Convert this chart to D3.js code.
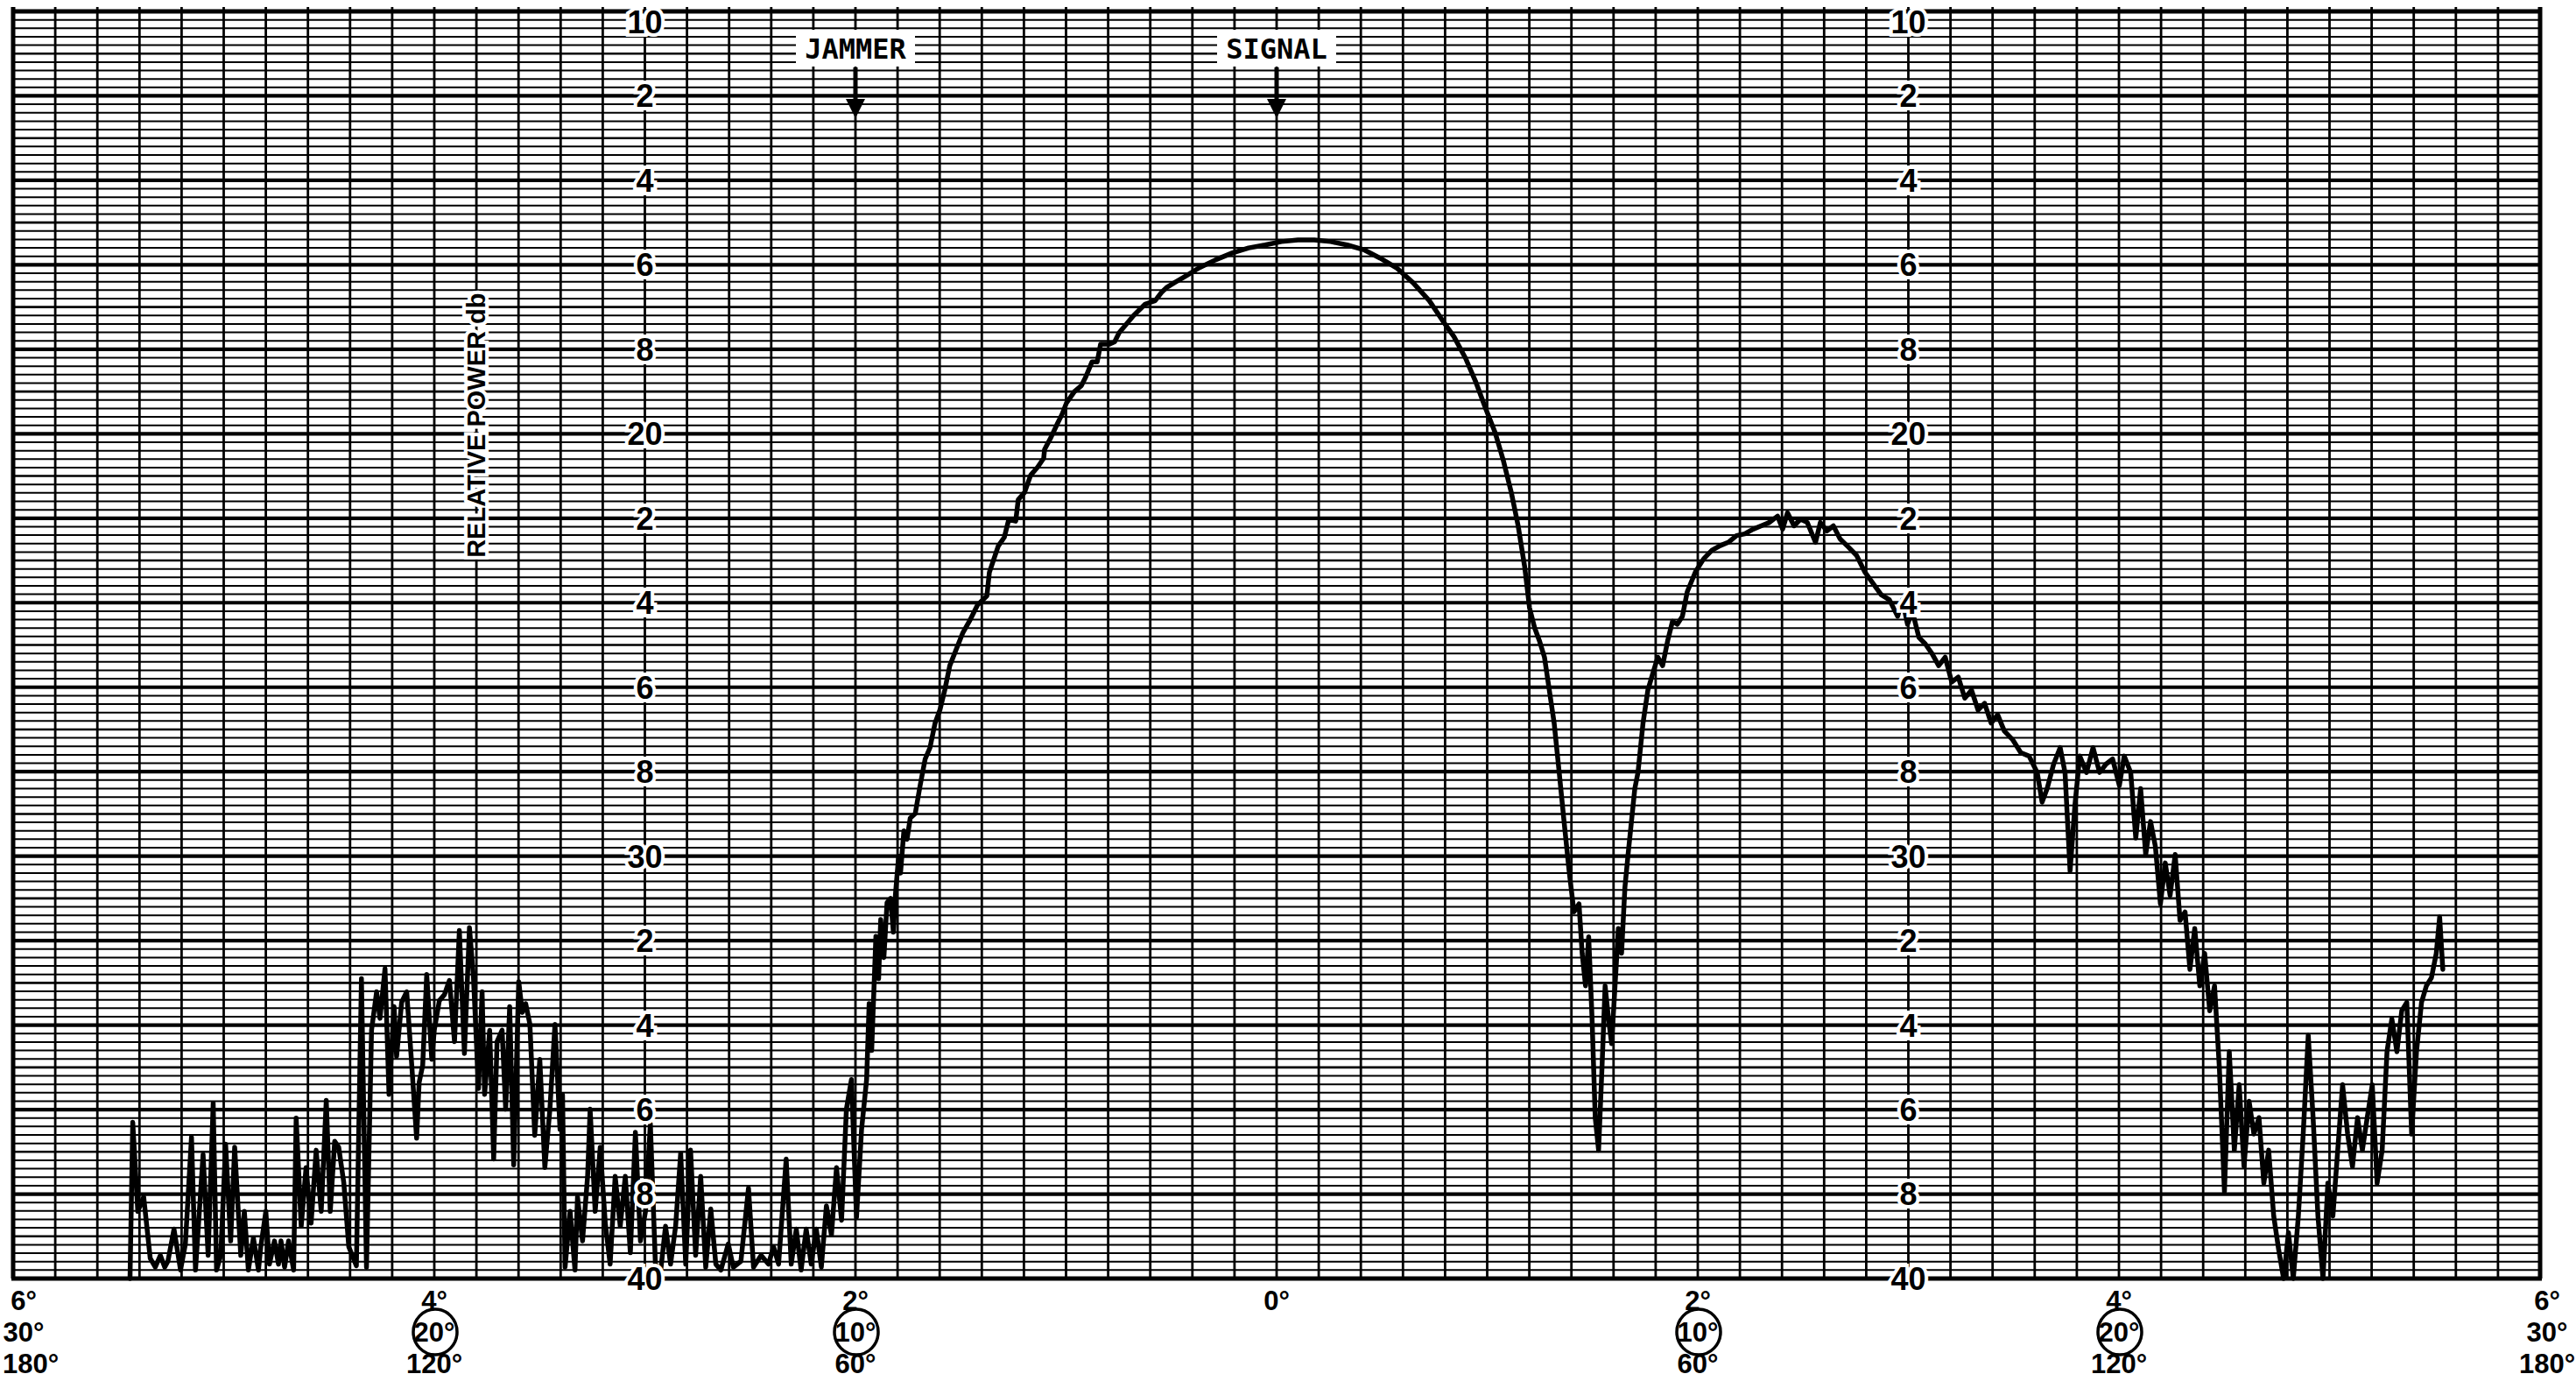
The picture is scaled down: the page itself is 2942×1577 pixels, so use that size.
<!DOCTYPE html>
<html>
<head>
<meta charset="utf-8">
<script src="https://cdn.jsdelivr.net/npm/d3@7"></script>
<style>
  body { margin: 0; background: #fff; }
  svg { display: block; }
</style>
</head>
<body>
<script>
const W = 2942, H = 1577

// y axis: relative power, dB (10 at top, 40 at bottom)
const powerTicks = [10, 12, 14, 16, 18, 20, 22, 24, 26, 28, 30, 32, 34, 36, 38, 40]
const powerTickLabels = ['10', '2', '4', '6', '8', '20', '2', '4', '6', '8', '30', '2', '4', '6', '8', '40']
const labelColumns = [-3, 3]

// x axis: three scales printed under the chart
const angleTicks = [-6, -4, -2, 0, 2, 4, 6]
const angleRow1 = ['6°', '4°', '2°', '0°', '2°', '4°', '6°']
const angleRow2 = ['30°', '20°', '10°', '', '10°', '20°', '30°']
const angleRow2Circled = [false, true, true, false, true, true, false]
const angleRow3 = ['180°', '120°', '60°', '', '60°', '120°', '180°']

const markers = [{ name: 'JAMMER', at: -2 }, { name: 'SIGNAL', at: 0 }]

// recorded trace, angle in degrees / power in dB
const angleDeg = [
  -5.445, -5.432, -5.408, -5.380, -5.349, -5.325, -5.301, -5.280, -5.265, -5.236,
  -5.205, -5.182, -5.153, -5.134, -5.098, -5.074, -5.050, -5.034, -5.014, -4.991,
  -4.967, -4.948, -4.919, -4.902, -4.883, -4.859, -4.835, -4.824, -4.800, -4.783,
  -4.759, -4.740, -4.728, -4.711, -4.692, -4.668, -4.656, -4.632, -4.609, -4.585,
  -4.561, -4.537, -4.513, -4.494, -4.473, -4.454, -4.430, -4.406, -4.370, -4.346,
  -4.322, -4.298, -4.274, -4.258, -4.234, -4.215, -4.191, -4.179, -4.155, -4.131,
  -4.107, -4.084, -4.072, -4.055, -4.036, -4.012, -4.000, -3.976, -3.952, -3.928,
  -3.904, -3.881, -3.857, -3.833, -3.814, -3.790, -3.773, -3.761, -3.737, -3.718,
  -3.702, -3.678, -3.661, -3.642, -3.623, -3.599, -3.582, -3.566, -3.546, -3.523,
  -3.499, -3.475, -3.451, -3.427, -3.403, -3.391, -3.379, -3.355, -3.332, -3.320,
  -3.296, -3.272, -3.260, -3.236, -3.212, -3.188, -3.165, -3.141, -3.117, -3.093,
  -3.069, -3.045, -3.021, -2.997, -2.974, -2.950, -2.926, -2.902, -2.878, -2.854,
  -2.830, -2.806, -2.783, -2.759, -2.735, -2.711, -2.687, -2.663, -2.639, -2.604,
  -2.580, -2.544, -2.508, -2.484, -2.448, -2.413, -2.389, -2.365, -2.329, -2.305,
  -2.281, -2.258, -2.234, -2.210, -2.186, -2.162, -2.138, -2.114, -2.090, -2.066,
  -2.043, -2.019, -1.995, -1.971, -1.947, -1.935, -1.923, -1.903, -1.890, -1.880,
  -1.865, -1.850, -1.833, -1.820, -1.810, -1.795, -1.786, -1.770, -1.755, -1.740,
  -1.716, -1.693, -1.669, -1.646, -1.622, -1.599, -1.576, -1.552, -1.521, -1.490,
  -1.459, -1.420, -1.376, -1.364, -1.322, -1.293, -1.272, -1.239, -1.227, -1.197,
  -1.168, -1.135, -1.106, -1.102, -1.073, -1.040, -1.019, -0.998, -0.960, -0.927,
  -0.906, -0.877, -0.852, -0.836, -0.794, -0.769, -0.748, -0.679, -0.624, -0.577,
  -0.546, -0.523, -0.484, -0.429, -0.367, -0.289, -0.211, -0.133, -0.055, 0.023,
  0.101, 0.179, 0.257, 0.335, 0.413, 0.491, 0.569, 0.647, 0.725, 0.788,
  0.842, 0.897, 0.944, 0.991, 1.037, 1.076, 1.115, 1.147, 1.178, 1.201,
  1.225, 1.248, 1.272, 1.295, 1.318, 1.342, 1.365, 1.389, 1.412, 1.436,
  1.451, 1.467, 1.482, 1.498, 1.513, 1.529, 1.545, 1.560, 1.576, 1.591,
  1.607, 1.623, 1.638, 1.654, 1.669, 1.685, 1.701, 1.716, 1.740, 1.763,
  1.786, 1.810, 1.833, 1.857, 1.880, 1.903, 1.927, 1.950, 1.989, 2.028,
  2.067, 2.106, 2.145, 2.184, 2.223, 2.262, 2.301, 2.340, 2.379, 2.403,
  2.426, 2.457, 2.488, 2.520, 2.559, 2.582, 2.613, 2.644, 2.676, 2.715,
  2.754, 2.793, 2.832, 2.871, 2.910, 2.949, 2.972, 2.996, 3.019, 3.050,
  3.081, 3.113, 3.144, 3.175, 3.206, 3.237, 3.268, 3.300, 3.331, 3.362,
  3.393, 3.424, 3.456, 3.495, 3.534, 3.573, 3.612, 3.635, 3.659, 3.690,
  3.721, 3.744, 3.768, 3.791, 3.814, 3.846, 3.877, 3.908, 3.939, 3.970,
  4.002, 4.025, 4.056, 4.080, 4.103, 4.127, 4.150, 4.173, 4.197, 4.220,
  4.243, 4.267, 4.290, 4.314, 4.337, 4.360, 4.384, 4.407, 4.431, 4.454,
  4.477, 4.501, 4.524, 4.548, 4.571, 4.594, 4.618, 4.641, 4.665, 4.688,
  4.711, 4.735, 4.758, 4.782, 4.805, 4.828, 4.852, 4.875, 4.899, 4.922,
  4.945, 4.969, 4.992, 5.016, 5.039, 5.062, 5.086, 5.109, 5.133, 5.156,
  5.179, 5.203, 5.226, 5.250, 5.273, 5.296, 5.320, 5.343, 5.367, 5.390,
  5.413, 5.437, 5.460, 5.484, 5.507, 5.523, 5.538
]
const powerDb = [
  40.00, 36.30, 38.41, 38.07, 39.52, 39.73, 39.45, 39.73, 39.59, 38.83,
  39.80, 39.18, 36.65, 39.80, 37.06, 39.45, 35.85, 39.80, 39.45, 36.82,
  39.11, 36.89, 39.45, 38.41, 39.80, 39.04, 39.80, 39.25, 38.41, 39.66,
  39.11, 39.66, 39.11, 39.73, 39.11, 39.80, 36.20, 38.76, 37.37, 38.69,
  36.96, 38.41, 35.78, 38.41, 36.75, 36.89, 37.72, 39.25, 39.70, 32.90,
  39.73, 34.12, 33.21, 33.84, 32.66, 35.64, 33.56, 34.74, 33.46, 33.21,
  34.95, 36.68, 35.36, 34.95, 32.80, 34.81, 34.12, 33.42, 33.28, 32.94,
  34.39, 31.76, 34.67, 31.69, 32.87, 35.50, 33.21, 35.64, 34.12, 37.17,
  34.39, 34.12, 35.99, 33.56, 37.31, 32.97, 33.70, 33.49, 33.98, 36.61,
  34.81, 37.37, 35.99, 33.98, 36.47, 35.64, 39.73, 38.41, 39.80, 38.07,
  39.11, 37.58, 35.99, 38.41, 36.89, 38.69, 39.66, 37.58, 38.76, 37.58,
  39.39, 36.54, 39.11, 38.41, 36.33, 39.66, 39.87, 38.76, 39.66, 38.76,
  37.03, 39.66, 36.96, 39.45, 37.58, 39.73, 38.35, 39.66, 39.80, 39.18,
  39.73, 39.59, 37.86, 39.73, 39.45, 39.66, 39.25, 39.66, 37.17, 39.66,
  38.83, 39.80, 38.83, 39.66, 38.83, 39.73, 38.28, 38.97, 37.37, 38.62,
  35.99, 35.29, 38.55, 36.47, 35.29, 33.49, 34.60, 31.90, 32.90, 31.50,
  32.40, 31.10, 31.00, 31.80, 30.90, 30.00, 30.40, 29.40, 29.60, 29.10,
  28.99, 28.33, 27.70, 27.43, 26.85, 26.54, 26.07, 25.49, 25.10, 24.71,
  24.44, 24.05, 23.84, 23.28, 22.66, 22.45, 22.03, 22.07, 21.56, 21.39,
  20.98, 20.79, 20.58, 20.37, 20.10, 19.75, 19.54, 19.27, 19.00, 18.86,
  18.65, 18.30, 18.30, 17.88, 17.88, 17.82, 17.61, 17.20, 16.93, 16.85,
  16.65, 16.54, 16.42, 16.26, 16.07, 15.88, 15.72, 15.60, 15.53, 15.45,
  15.41, 15.41, 15.45, 15.53, 15.64, 15.84, 16.07, 16.42, 16.85, 17.32,
  17.70, 18.21, 18.75, 19.38, 19.96, 20.62, 21.40, 22.18, 23.15, 24.12,
  24.59, 24.90, 25.29, 26.07, 26.85, 28.02, 29.18, 30.35, 31.32, 31.13,
  32.30, 33.07, 31.91, 33.85, 36.19, 36.96, 35.02, 33.07, 33.85, 34.44,
  33.07, 31.71, 32.30, 30.74, 29.96, 29.18, 28.40, 28.02, 26.85, 26.07,
  25.68, 25.29, 25.49, 24.90, 24.44, 24.51, 24.32, 23.74, 23.27, 22.96,
  22.76, 22.65, 22.57, 22.41, 22.37, 22.26, 22.18, 22.10, 21.95, 22.26,
  21.87, 22.18, 22.02, 22.10, 22.57, 22.10, 22.30, 22.18, 22.49, 22.68,
  22.88, 23.27, 23.54, 23.81, 23.93, 24.32, 23.93, 24.51, 24.20, 24.82,
  24.98, 25.21, 25.49, 25.29, 25.88, 25.76, 26.26, 26.07, 26.54, 26.38,
  26.85, 26.65, 27.04, 27.24, 27.55, 27.63, 28.02, 28.72, 28.40, 27.82,
  27.43, 28.02, 30.35, 28.79, 27.63, 28.02, 27.43, 28.02, 27.82, 27.70,
  28.33, 27.63, 28.02, 29.57, 28.40, 29.96, 29.18, 29.77, 31.13, 30.16,
  30.93, 29.96, 31.52, 31.32, 32.68, 31.71, 33.07, 32.30, 33.66, 33.07,
  35.02, 37.94, 34.63, 36.96, 35.41, 37.35, 35.80, 36.58, 36.19, 37.74,
  36.96, 38.52, 39.30, 40.00, 38.91, 40.00, 38.52, 36.58, 34.24, 36.19,
  38.52, 40.00, 37.74, 38.52, 36.96, 35.41, 36.58, 37.35, 36.19, 36.96,
  36.19, 35.41, 37.74, 36.96, 34.63, 33.85, 34.63, 33.66, 33.46, 36.58,
  34.63, 33.46, 33.07, 32.88, 32.30, 31.44, 32.68
]

const x = d3.scaleLinear().domain([-6, 6]).range([15, 2901])
const y = d3.scaleLinear().domain([10, 40]).range([13, 1460])

const svg = d3.select('body').append('svg')
  .attr('width', W)
  .attr('height', H)
  .style('background', '#fff')

// chart paper grid
const grid = svg.append('g').attr('stroke', '#000')

grid.selectAll('line.h')
  .data(d3.range(0, 151))
  .enter().append('line')
  .attr('class', 'h')
  .attr('x1', x(-6)).attr('x2', x(6))
  .attr('y1', i => y(10 + i * 0.2)).attr('y2', i => y(10 + i * 0.2))
  .attr('stroke-width', i => i % 10 === 0 ? 4.2 : (i % 5 === 0 ? 2.6 : 2))

grid.selectAll('line.v')
  .data(d3.range(0, 61))
  .enter().append('line')
  .attr('class', 'v')
  .attr('x1', i => x(-6 + i * 0.2)).attr('x2', i => x(-6 + i * 0.2))
  .attr('y1', y(10) - 5).attr('y2', y(40))
  .attr('stroke-width', i => (i === 0 || i === 60) ? 5 : 2.8)

// top / bottom border
grid.append('line')
  .attr('x1', x(-6)).attr('x2', x(6))
  .attr('y1', y(10)).attr('y2', y(10))
  .attr('stroke-width', 5)
grid.append('line')
  .attr('x1', x(-6) - 2).attr('x2', x(6) + 2)
  .attr('y1', y(40)).attr('y2', y(40))
  .attr('stroke-width', 5)

// trace
const line = d3.line()
  .x(d => x(d[0]))
  .y(d => y(d[1]))

svg.append('path')
  .datum(d3.zip(angleDeg, powerDb))
  .attr('d', line)
  .attr('fill', 'none')
  .attr('stroke', '#000')
  .attr('stroke-width', 5.5)
  .attr('stroke-linejoin', 'round')
  .attr('stroke-linecap', 'round')

// power labels, two columns
const labelFont = '"Liberation Sans", Arial, sans-serif'
labelColumns.forEach(col => {
  svg.append('g')
    .selectAll('text')
    .data(powerTicks)
    .enter().append('text')
    .attr('x', x(col))
    .attr('y', d => d === 10 ? y(d) + 12 : y(d))
    .attr('dy', '0.36em')
    .attr('text-anchor', 'middle')
    .attr('font-family', labelFont)
    .attr('font-weight', 'bold')
    .attr('font-size', 36)
    .attr('fill', '#000')
    .attr('stroke', '#fff')
    .attr('stroke-width', 8)
    .attr('paint-order', 'stroke')
    .text((d, i) => powerTickLabels[i])
})

// axis title
svg.append('text')
  .attr('transform', `translate(${x(-3.8) + 10},${y(19.8)}) rotate(-90)`)
  .attr('text-anchor', 'middle')
  .attr('font-family', labelFont)
  .attr('font-weight', 'bold')
  .attr('font-size', 29)
  .attr('fill', '#000')
  .attr('stroke', '#fff')
  .attr('stroke-width', 8)
  .attr('paint-order', 'stroke')
  .text('RELATIVE POWER db')

// JAMMER / SIGNAL markers
markers.forEach(m => {
  const cx = x(m.at)
  const g = svg.append('g')
  g.append('rect')
    .attr('x', cx - 68).attr('y', 34)
    .attr('width', 136).attr('height', 42)
    .attr('fill', '#fff')
  g.append('text')
    .attr('x', cx).attr('y', 67)
    .attr('text-anchor', 'middle')
    .attr('font-family', '"DejaVu Sans Mono", monospace')
    .attr('font-weight', 'bold')
    .attr('font-size', 32)
    .text(m.name)
  g.append('line')
    .attr('x1', cx).attr('x2', cx)
    .attr('y1', 77).attr('y2', 118)
    .attr('stroke', '#000').attr('stroke-width', 5)
  g.append('path')
    .attr('d', `M${cx - 11},113 L${cx + 11},113 L${cx},135 Z`)
    .attr('fill', '#000')
})

// angle labels under the chart
const axisG = svg.append('g')
  .attr('font-family', labelFont)
  .attr('font-weight', 'bold')
  .attr('font-size', 31)
  .attr('text-anchor', 'middle')
  .attr('fill', '#000')

const lx = d => x(d) + (d === -6 ? 12 : (d === 6 ? 8 : 0))

axisG.selectAll('text.r1').data(angleTicks).enter().append('text')
  .attr('class', 'r1')
  .attr('x', lx).attr('y', 1496)
  .text((d, i) => angleRow1[i])

axisG.selectAll('text.r2').data(angleTicks).enter().append('text')
  .attr('class', 'r2')
  .attr('x', lx).attr('y', 1532)
  .text((d, i) => angleRow2[i])

axisG.selectAll('ellipse').data(angleTicks.filter((d, i) => angleRow2Circled[i]))
  .enter().append('ellipse')
  .attr('cx', d => x(d) + 1).attr('cy', 1521)
  .attr('rx', 25).attr('ry', 26)
  .attr('fill', 'none')
  .attr('stroke', '#000')
  .attr('stroke-width', 3.5)

axisG.selectAll('text.r3').data(angleTicks).enter().append('text')
  .attr('class', 'r3')
  .attr('x', d => d === -6 ? 35 : lx(d)).attr('y', 1568)
  .text((d, i) => angleRow3[i])
</script>
</body>
</html>
